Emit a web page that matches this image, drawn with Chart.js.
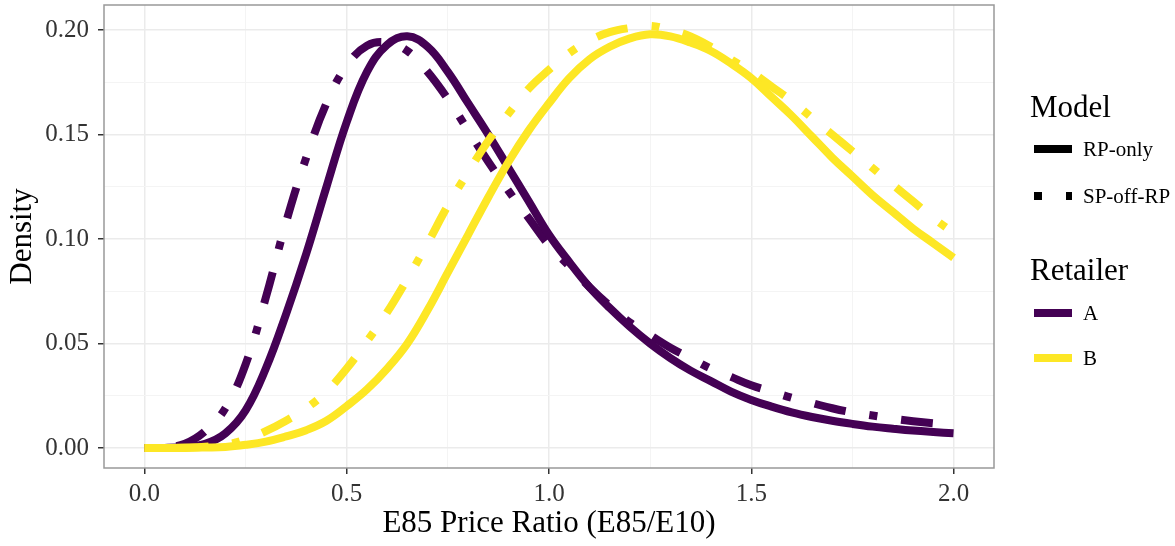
<!DOCTYPE html>
<html>
<head>
<meta charset="utf-8">
<script src="https://cdn.jsdelivr.net/npm/chart.js@4.4.1/dist/chart.umd.min.js"></script>
<style>
  body { margin: 0; background: #fff; }
  #wrap { width: 1175px; height: 546px; }
</style>
</head>
<body>
<div id="wrap"><canvas id="density-canvas" width="1175" height="546"></canvas></div>
<script>
// E85/E10 price ratio grid
let ratio = [0.00, 0.05, 0.10, 0.15, 0.20, 0.25, 0.30, 0.35, 0.40, 0.45,
             0.50, 0.55, 0.60, 0.65, 0.70, 0.75, 0.80, 0.85, 0.90, 0.95,
             1.00, 1.05, 1.10, 1.15, 1.20, 1.25, 1.30, 1.35, 1.40, 1.45,
             1.50, 1.55, 1.60, 1.65, 1.70, 1.75, 1.80, 1.85, 1.90, 1.95, 2.00];

// densities by retailer and model
let retailerA_RP = [0, 0, 0.0005, 0.002, 0.007, 0.018, 0.038, 0.064, 0.093, 0.125,
                    0.156, 0.180, 0.193, 0.197, 0.192, 0.180, 0.165, 0.150, 0.134, 0.118,
                    0.102, 0.089, 0.077, 0.067, 0.058, 0.050, 0.043, 0.037, 0.032, 0.027,
                    0.023, 0.0198, 0.017, 0.0148, 0.013, 0.0115, 0.0102, 0.0092, 0.0083, 0.0076, 0.007];
let retailerA_SP = [0, 0.0002, 0.002, 0.008, 0.019, 0.040, 0.072, 0.108, 0.139, 0.165,
                    0.183, 0.1925, 0.194, 0.190, 0.180, 0.167, 0.152, 0.137, 0.123, 0.110,
                    0.097, 0.087, 0.077, 0.068, 0.060, 0.054, 0.048, 0.043, 0.038, 0.034,
                    0.030, 0.027, 0.024, 0.0215, 0.019, 0.017, 0.0155, 0.014, 0.0128, 0.0118, 0.011];
let retailerB_RP = [0, 0, 0, 0.0002, 0.0005, 0.0015, 0.003, 0.0055, 0.0085, 0.013,
                    0.020, 0.028, 0.038, 0.050, 0.066, 0.084, 0.102, 0.120, 0.137, 0.152,
                    0.165, 0.177, 0.186, 0.192, 0.196, 0.198, 0.197, 0.194, 0.190, 0.184,
                    0.177, 0.168, 0.159, 0.149, 0.139, 0.130, 0.121, 0.113, 0.105, 0.098, 0.091];
let retailerB_SP = [0, 0, 0.0002, 0.0006, 0.0015, 0.004, 0.008, 0.013, 0.019, 0.027,
                    0.038, 0.051, 0.065, 0.081, 0.098, 0.116, 0.132, 0.147, 0.160, 0.172,
                    0.181, 0.189, 0.195, 0.199, 0.201, 0.202, 0.200, 0.197, 0.192, 0.186,
                    0.180, 0.173, 0.166, 0.158, 0.150, 0.142, 0.134, 0.126, 0.118, 0.110, 0.103];

let xTicks = [0, 0.25, 0.5, 0.75, 1, 1.25, 1.5, 1.75, 2];
let yTicks = [0, 0.025, 0.05, 0.075, 0.1, 0.125, 0.15, 0.175, 0.2];

const PURPLE = '#440154';
const YELLOW = '#FDE725';
const DOTDASH = [8, 24, 32, 24];
const SERIF = '"Liberation Serif", "Times New Roman", serif';

Chart.defaults.font.family = SERIF;

function pts(ys) {
    return ratio.map((x, i) => ({ x: x, y: ys[i] }));
}

function isMajor(v, step) {
    let k = v / step;
    return Math.abs(k - Math.round(k)) < 1e-9;
}

// theme_bw style grid: light major lines, fainter minor ones
function gridFor(step) {
    return {
        color: c => isMajor(c.tick.value, step) ? '#ebebeb' : '#f4f4f4',
        lineWidth: c => isMajor(c.tick.value, step) ? 1.5 : 1,
        tickColor: c => isMajor(c.tick.value, step) ? '#333333' : 'rgba(0,0,0,0)',
        tickWidth: 1.5,
        tickLength: 6,
        drawTicks: true
    };
}

// keep the panel exactly where the layout puts it (no room for label overhang)
function noOverhang(s) {
    s.paddingTop = 0;
    s.paddingBottom = 0;
    s.paddingLeft = 0;
    s.paddingRight = 0;
}

// panel border on top + Model/Retailer legend at the right
let panelAndLegend = {
    id: 'panelAndLegend',
    afterDatasetsDraw(chart) {
        let ctx = chart.ctx;
        let a = chart.chartArea;
        ctx.save();
        ctx.strokeStyle = '#999999';
        ctx.lineWidth = 1.5;
        ctx.strokeRect(a.left, a.top, a.right - a.left, a.bottom - a.top);
        ctx.restore();
    },
    afterDraw(chart) {
        let ctx = chart.ctx;
        let keyX0 = 1034, keyX1 = 1072, labelX = 1083;
        ctx.save();
        ctx.fillStyle = '#000';
        ctx.textAlign = 'left';

        ctx.font = '31px ' + SERIF;
        ctx.textBaseline = 'alphabetic';
        ctx.fillText('Model', 1030, 117);
        ctx.fillText('Retailer', 1030, 280);

        let keys = [
            { y: 149, color: '#000', dash: [], label: 'RP-only' },
            { y: 196, color: '#000', dash: DOTDASH, label: 'SP-off-RP' },
            { y: 313, color: PURPLE, dash: [], label: 'A' },
            { y: 358, color: YELLOW, dash: [], label: 'B' }
        ];
        ctx.font = '21px ' + SERIF;
        ctx.textBaseline = 'middle';
        keys.forEach(k => {
            ctx.beginPath();
            ctx.setLineDash(k.dash);
            ctx.lineCap = 'butt';
            ctx.lineWidth = 8;
            ctx.strokeStyle = k.color;
            ctx.moveTo(keyX0, k.y);
            ctx.lineTo(keyX1, k.y);
            ctx.stroke();
            ctx.fillText(k.label, labelX, k.y + 1);
        });
        ctx.restore();
    }
};

let densityCtx = document.getElementById('density-canvas').getContext('2d');

let densityChart = new Chart(densityCtx, {
    type: 'line',
    data: {
        datasets: [
            { label: 'A RP-only', data: pts(retailerA_RP), borderColor: PURPLE, borderDash: [], order: 2 },
            { label: 'A SP-off-RP', data: pts(retailerA_SP), borderColor: PURPLE, borderDash: DOTDASH, order: 2 },
            { label: 'B RP-only', data: pts(retailerB_RP), borderColor: YELLOW, borderDash: [], order: 1 },
            { label: 'B SP-off-RP', data: pts(retailerB_SP), borderColor: YELLOW, borderDash: DOTDASH, order: 1 }
        ]
    },
    options: {
        responsive: false,
        animation: false,
        devicePixelRatio: 1,
        datasets: {
            line: {
                borderWidth: 8,
                borderCapStyle: 'butt',
                borderJoinStyle: 'round',
                pointRadius: 0,
                fill: false,
                tension: 0.4
            }
        },
        layout: {
            padding: { left: 0, right: 181, top: 5, bottom: 0 }
        },
        plugins: {
            legend: { display: false },
            tooltip: { enabled: false }
        },
        scales: {
            x: {
                type: 'linear',
                min: -0.1,
                max: 2.1,
                afterBuildTicks: s => { s.ticks = xTicks.map(v => ({ value: v })); },
                afterFit: s => { s.height = 78; noOverhang(s); },
                ticks: {
                    autoSkip: false,
                    maxRotation: 0,
                    padding: 5,
                    color: '#333333',
                    font: { size: 25 },
                    callback: v => isMajor(v, 0.5) ? v.toFixed(1) : ''
                },
                grid: gridFor(0.5),
                border: { display: false },
                title: {
                    display: true,
                    text: 'E85 Price Ratio (E85/E10)',
                    color: '#000',
                    font: { size: 31 },
                    padding: { top: 0, bottom: 4 }
                }
            },
            y: {
                type: 'linear',
                min: -0.0096,
                max: 0.212,
                afterBuildTicks: s => { s.ticks = yTicks.map(v => ({ value: v })); },
                afterFit: s => { s.width = 104; noOverhang(s); },
                ticks: {
                    autoSkip: false,
                    padding: 9,
                    color: '#333333',
                    font: { size: 25 },
                    callback: v => isMajor(v, 0.05) ? v.toFixed(2) : ''
                },
                grid: gridFor(0.05),
                border: { display: false },
                title: {
                    display: true,
                    text: 'Density',
                    color: '#000',
                    font: { size: 31 },
                    padding: { top: 4, bottom: 0 }
                }
            }
        }
    },
    plugins: [panelAndLegend]
});
</script>
</body>
</html>
